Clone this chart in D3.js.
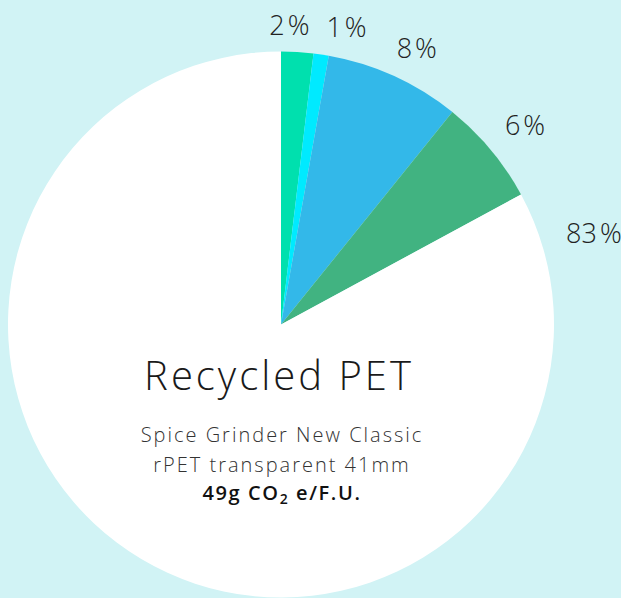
<!DOCTYPE html>
<html>
<head>
<meta charset="utf-8">
<script src="https://cdn.jsdelivr.net/npm/d3@7"></script>
<style>
  html, body { margin: 0; padding: 0; background: #d1f3f5; overflow: hidden; }
  svg { display: block; }
  text { font-family: "Open Sans", Lato, sans-serif; }
</style>
</head>
<body>
<div id="chart"></div>
<script>
// slice shares, clockwise from 12 o'clock
const segments = ['A', 'B', 'C', 'D', 'Other'];
const shares = [1.9, 0.9, 8.0, 6.3, 82.9];
const sliceColors = ['#00e0ae', '#00eaff', '#33b8e9', '#41b381', '#ffffff'];

const title = 'Recycled PET';
const subtitleLines = ['Spice Grinder New Classic', 'rPET transparent 41mm'];
const footprint = { value: '49g CO', sub: '2', rest: ' e/F.U.' };

function drawPie() {
    const width = 621, height = 598;
    const cx = 281, cy = 324.5, radius = 273;
    const labelRadius = 299;

    const svg = d3.select('#chart').append('svg')
        .attr('width', width)
        .attr('height', height);

    const data = segments.map((s, i) => ({ name: s, value: shares[i], color: sliceColors[i] }));

    const pie = d3.pie().sort(null).value(d => d.value);
    const arc = d3.arc().innerRadius(0).outerRadius(radius);
    const arcs = pie(data);

    const g = svg.append('g').attr('transform', `translate(${cx},${cy})`);

    g.selectAll('path.slice')
        .data(arcs)
        .join('path')
        .attr('class', 'slice')
        .attr('d', arc)
        .attr('fill', d => d.data.color);

    // percent labels, left-anchored just outside the rim
    const labels = g.selectAll('text.pct')
        .data(arcs)
        .join('text')
        .attr('class', 'pct')
        .attr('font-size', 27)
        .attr('font-weight', 300)
        .attr('fill', '#222')
        .attr('dominant-baseline', 'middle')
        .attr('dy', 2);
    labels.append('tspan').text(d => Math.round(d.data.value));
    labels.append('tspan').attr('dx', 3).text('%');

    const pos = arcs.map(d => {
        let a = (d.startAngle + d.endAngle) / 2 - 0.03;
        if (d.endAngle - d.startAngle > Math.PI) a = d.startAngle + 0.19; // big slice: keep label near its start
        return { x: labelRadius * Math.sin(a), y: -labelRadius * Math.cos(a) };
    });
    labels.each(function (d, i) { pos[i].w = this.getComputedTextLength() + 3; });

    // spread colliding neighbours apart (mostly the earlier one moves)
    for (let i = pos.length - 2; i >= 0; i--) {
        const n = pos[i + 1];
        const overlap = pos[i].x + pos[i].w + 17 - n.x;
        if (Math.abs(pos[i].y - n.y) < 30 && overlap > 0) {
            pos[i].x -= overlap * 2 / 3;
            n.x += overlap / 3;
        }
    }
    labels.attr('x', (d, i) => pos[i].x).attr('y', (d, i) => pos[i].y);
    labels.selectAll('tspan:first-child').attr('x', function () { return this.parentNode.getAttribute('x'); });

    // centre text
    const c = svg.append('g').attr('transform', `translate(${cx},0)`)
        .attr('text-anchor', 'middle');

    c.append('text')
        .attr('x', -2)
        .attr('y', 390)
        .attr('font-size', 40)
        .attr('font-weight', 300)
        .attr('letter-spacing', 3)
        .attr('fill', '#1a1a1a')
        .text(title);

    subtitleLines.forEach((line, i) => {
        c.append('text')
            .attr('x', 1)
            .attr('y', 442 + i * 30)
            .attr('font-size', 20)
            .attr('font-weight', 300)
            .attr('letter-spacing', 2)
            .attr('fill', '#333')
            .text(line);
    });

    const fp = c.append('text')
        .attr('x', 1)
        .attr('y', 500)
        .attr('font-size', 20)
        .attr('font-weight', 600)
        .attr('letter-spacing', 1.6)
        .attr('fill', '#111');
    fp.append('tspan').text(footprint.value);
    fp.append('tspan').attr('font-size', 14).attr('dy', 4).text(footprint.sub);
    fp.append('tspan').attr('dy', -4).text(footprint.rest);
}

drawPie();
</script>
</body>
</html>
